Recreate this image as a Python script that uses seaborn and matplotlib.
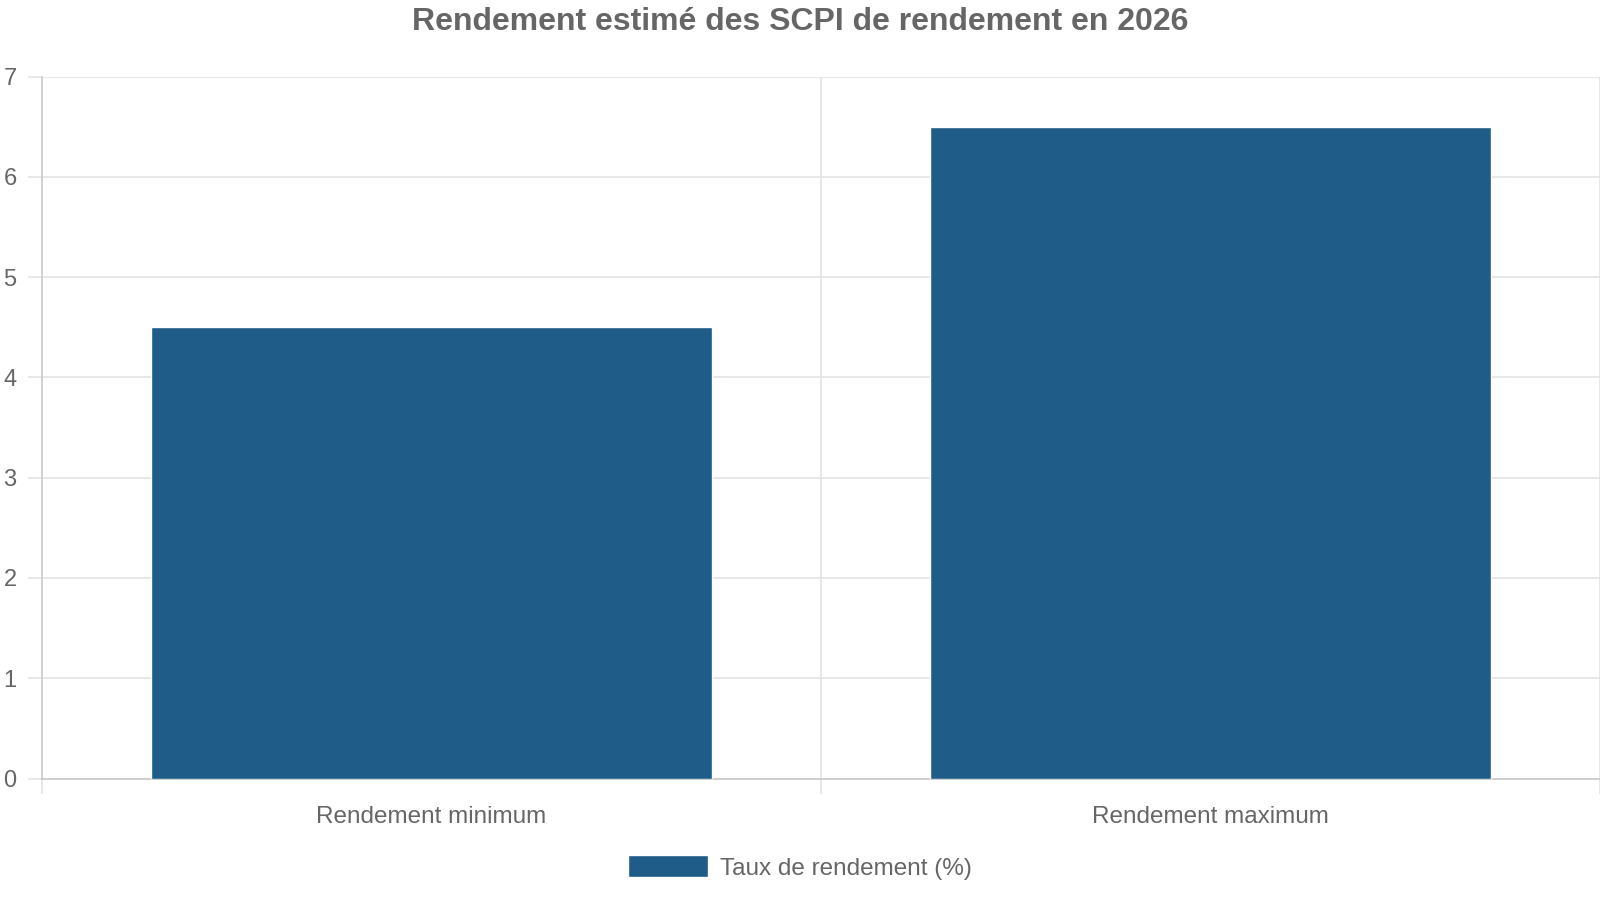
import pandas as pd
import seaborn as sns
import matplotlib.pyplot as plt

# Rendement SCPI 2026
categories = ["Rendement minimum", "Rendement maximum"]
values = [4.5, 6.5]
series_label = "Taux de rendement (%)"
title = "Rendement estimé des SCPI de rendement en 2026"

df = pd.DataFrame({"Categorie": categories, "Taux": values})

sns.set_style("white")
plt.rcParams["font.family"] = ["Liberation Sans", "DejaVu Sans"]

grid_col = "#e3e3e3"
text_col = "#666666"
bar_col = "#1f5c87"

fig = plt.figure(figsize=(16, 9), dpi=100)
ax = fig.add_axes([0.026, 0.135, 0.974, 0.78])

sns.barplot(data=df, x="Categorie", y="Taux", color=bar_col, width=0.72,
            saturation=1, label=series_label, ax=ax, zorder=3)
handles, labels = ax.get_legend_handles_labels()
if ax.get_legend() is not None:
    ax.get_legend().remove()

ax.set_xlim(-0.5, 1.5)
ax.set_ylim(0, 7)
ax.set_yticks(range(0, 8))
ax.set_xlabel("")
ax.set_ylabel("")

# gridlines between categories, like Chart.js offset grid
ax.set_xticks([-0.5, 0.5, 1.5], minor=True)
ax.grid(True, axis="y", color=grid_col, linewidth=1.2, zorder=0)
ax.grid(True, axis="x", which="minor", color=grid_col, linewidth=1.2, zorder=0)
ax.tick_params(axis="x", which="major", bottom=True, length=0, pad=20,
               labelsize=17.5, labelcolor=text_col)
ax.tick_params(axis="x", which="minor", bottom=True, length=11, width=1.2, color=grid_col)
ax.tick_params(axis="y", left=True, length=10, width=1.2, color=grid_col, pad=8,
               labelsize=17, labelcolor=text_col)

for s in ["top", "right"]:
    ax.spines[s].set_visible(False)
ax.spines["left"].set_color("#cccccc")
ax.spines["left"].set_linewidth(1.2)
ax.spines["bottom"].set_color("#c8c8c8")
ax.spines["bottom"].set_linewidth(1.2)

fig.suptitle(title, x=0.5, y=0.992, fontsize=23, fontweight="bold", color=text_col)

fig.legend(handles, labels, loc="center", bbox_to_anchor=(0.5, 0.036),
           frameon=False, fontsize=17.5, labelcolor=text_col,
           handlelength=3.3, handleheight=1.0, handletextpad=0.5)

fig.savefig("out.png", dpi=100, facecolor="white")
